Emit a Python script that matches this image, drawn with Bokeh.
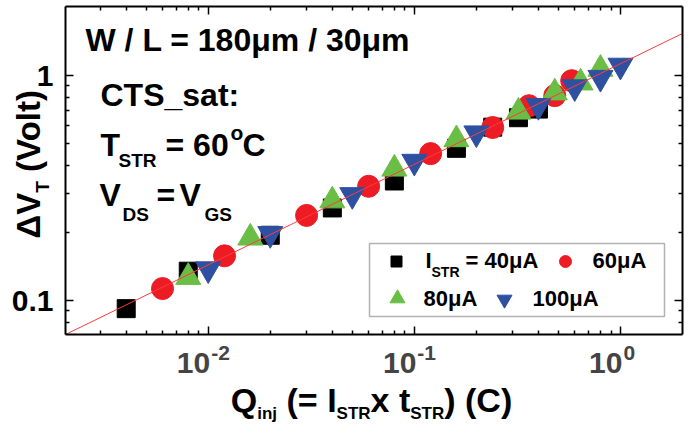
import math
from bokeh.plotting import figure
from bokeh.models import (Label, LogAxis, CustomJSTickFormatter, BoxAnnotation,
                          Range1d, FixedTicker)
from bokeh.embed import file_html
from bokeh.resources import INLINE

# ---------------- data ----------------
q_40 = [0.004, 0.008, 0.02, 0.04, 0.08, 0.16, 0.24, 0.32, 0.4]
dv_40 = [0.092, 0.135, 0.195, 0.258, 0.34, 0.475, 0.59, 0.65, 0.71]
q_60 = [0.006, 0.012, 0.03, 0.06, 0.12, 0.24, 0.36, 0.48, 0.58]
dv_60 = [0.113, 0.158, 0.239, 0.322, 0.45, 0.588, 0.735, 0.815, 0.95]
q_80 = [0.008, 0.016, 0.04, 0.08, 0.16, 0.32, 0.48, 0.64, 0.8]
dv_80 = [0.127, 0.19, 0.278, 0.385, 0.52, 0.69, 0.84, 0.93, 1.07]
q_100 = [0.01, 0.02, 0.05, 0.1, 0.2, 0.4, 0.6, 0.8, 1.0]
dv_100 = [0.138, 0.198, 0.295, 0.415, 0.555, 0.735, 0.89, 0.98, 1.11]
fit_q = [0.00203, 2.0]
fit_dv = [0.0706, 1.54]

x_major = [0.01, 0.1, 1.0]
x_tick_exp = ["-2", "-1", "0"]
x_minor = [0.003, 0.004, 0.005, 0.006, 0.007, 0.008, 0.009,
           0.02, 0.03, 0.04, 0.05, 0.06, 0.07, 0.08, 0.09,
           0.2, 0.3, 0.4, 0.5, 0.6, 0.7, 0.8, 0.9]
y_major = [0.1, 1.0]
y_minor = [0.08, 0.09, 0.2, 0.3, 0.4, 0.5, 0.6, 0.7, 0.8, 0.9]
legend_labels = ["= 40\u03bcA", "60\u03bcA", "80\u03bcA", "100\u03bcA"]

# axis limits of the drawn box
X0, X1 = 0.00203, 2.0
Y0, Y1 = 0.0706, 2.03

BLACK = "#000000"
RED = "#ed1c24"
GREEN = "#6abe45"
BLUE = "#2e50a0"
FONT = "Liberation Sans"

# canvas and box placement in canvas px
W, H = 693, 425
FL, FT, FR, FB = 65, 6, 682, 334
K = 0.43  # baseline correction (fraction of font size)

dpx_x = (FR - FL) / math.log10(X1 / X0)
dpx_y = (FB - FT) / math.log10(Y1 / Y0)
XS = X0 / 10 ** (FL / dpx_x)
XE = X1 * 10 ** ((W - FR) / dpx_x)
YS = Y0 / 10 ** ((H - FB) / dpx_y)
YE = Y1 * 10 ** (FT / dpx_y)

p = figure(width=W, height=H, x_axis_type="log", y_axis_type="log",
           x_range=Range1d(XS, XE), y_range=Range1d(YS, YE),
           output_backend="svg", toolbar_location=None,
           min_border_left=0, min_border_right=0,
           min_border_top=0, min_border_bottom=0)
p.title.visible = False
p.xgrid.visible = False
p.ygrid.visible = False
p.outline_line_color = None
p.background_fill_color = "white"
p.border_fill_color = "white"

empty = CustomJSTickFormatter(code="return ''")
xt = FixedTicker(ticks=x_major, minor_ticks=x_minor)
yt = FixedTicker(ticks=y_major, minor_ticks=y_minor)

bottom = p.below[0]
left = p.left[0]
top = LogAxis()
right = LogAxis()
p.add_layout(top, "above")
p.add_layout(right, "right")

for ax, loc, tk in ((bottom, Y0, xt), (top, Y1, xt), (left, X0, yt), (right, X1, yt)):
    ax.fixed_location = loc
    ax.ticker = tk
    ax.bounds = (X0, X1) if tk is xt else (Y0, Y1)
    ax.formatter = empty
    ax.axis_line_color = "black"
    ax.axis_line_width = 2
    ax.major_tick_in = 8
    ax.major_tick_out = 0
    ax.minor_tick_in = 4
    ax.minor_tick_out = 0
    ax.major_tick_line_width = 1.5
    ax.minor_tick_line_width = 1.5
    ax.major_tick_line_color = "black"
    ax.minor_tick_line_color = "black"
    ax.major_label_standoff = 0
    ax.major_label_text_font = FONT
    ax.major_label_text_font_style = "bold"
    ax.major_label_text_color = "black"

left.formatter = CustomJSTickFormatter(code="return String(Number(tick.toPrecision(3)))")
left.major_label_text_font_size = "30px"
left.major_label_standoff = 12

# ---------------- data marks ----------------
p.scatter(q_40, dv_40, marker="square", size=18, color=BLACK)
p.scatter(q_60, dv_60, marker="circle", size=22, color=RED)
p.scatter(q_80, dv_80, marker="triangle", size=25, color=GREEN)
p.scatter(q_100, dv_100, marker="inverted_triangle", size=25, color=BLUE)
p.line(fit_q, fit_dv, color="#ff3b3b", line_width=1)

# ---------------- text helpers (positions in canvas px, baseline) ----------------
AW = {' ': 278, '(': 333, ')': 333, '/': 278, '=': 584, '_': 556, ':': 333,
      '-': 333, '.': 278, '\u00b0': 400, '\u03bc': 611, '\u0394': 722,
      'A': 722, 'C': 722, 'D': 722, 'G': 778, 'I': 278, 'L': 611, 'Q': 778,
      'R': 722, 'S': 667, 'T': 611, 'V': 667, 'W': 944,
      'a': 556, 'i': 278, 'j': 278, 'l': 278, 'm': 889, 'n': 611, 'o': 611,
      's': 556, 't': 333, 'x': 556}


def tw(s, size):
    return sum(AW.get(c, 556) for c in s) * size / 1000.0


def put(text, px, py, size, angle=0.0, align="left"):
    if angle == 0.0:
        sx, sy = px, H - py + K * size
    else:
        sx, sy = px - K * size, H - py
    p.add_layout(Label(x=sx, y=sy, x_units="screen", y_units="screen",
                       text=text, text_font=FONT, text_font_style="bold",
                       text_font_size=f"{size}px", text_align=align,
                       text_baseline="alphabetic", angle=angle, text_color="black"))


def run(segs, px, py):
    pos = px
    for text, size, db in segs:
        lead = len(text) - len(text.lstrip(' '))
        pos += tw(' ' * lead, size)
        put(text.strip(' '), pos, py + db, size)
        pos += tw(text.lstrip(' '), size)


def vrun(segs, px, py):
    pos = py
    for text, size, db in segs:
        lead = len(text) - len(text.lstrip(' '))
        pos -= tw(' ' * lead, size)
        put(text.strip(' '), px + db, pos, size, angle=math.pi / 2)
        pos -= tw(text.lstrip(' '), size)


# annotations inside the box
put("W / L = 180\u03bcm / 30\u03bcm", 85, 53, 32)
put("CTS_sat:", 100, 108, 32)
put("T", 100, 158, 32)
put("STR", 118, 168, 19)
put("= 60", 165, 158, 32)
put("o", 230, 141, 21)
put("C", 242, 158, 32)
put("V", 99, 208, 32)
put("DS", 122, 222, 19)
put("=", 156, 208, 32)
put("V", 179, 208, 32)
put("GS", 204, 222, 19)

# axis titles
vrun([("\u0394V", 33, 0), ("T", 19, 8), (" (Volt)", 33, 0)], 42, 238)
xsegs = [("Q", 34, 0), ("inj", 17, 6), (" (= I", 34, 0), ("STR", 17, 6),
         ("x t", 34, 0), ("STR", 17, 6), (") (C)", 34, 0)]
total = sum(tw(s, z) for s, z, _ in xsegs)
run(xsegs, 371 - total / 2, 414)

# x tick labels 10^n
for t, e in zip(x_major, x_tick_exp):
    p.add_layout(Label(x=t, y=H - 375 + K * 30, x_units="data", y_units="screen", text="10",
                       x_offset=2, text_align="right", text_baseline="alphabetic",
                       text_font=FONT, text_font_style="bold", text_font_size="30px"))
    p.add_layout(Label(x=t, y=H - 362 + K * 21, x_units="data", y_units="screen", text=e,
                       x_offset=3, text_align="left", text_baseline="alphabetic",
                       text_font=FONT, text_font_style="bold", text_font_size="21px"))

# ---------------- legend ----------------
p.add_layout(BoxAnnotation(left=369, right=664, top=H - 243, bottom=H - 316,
                           left_units="screen", right_units="screen",
                           top_units="screen", bottom_units="screen",
                           fill_color=None, fill_alpha=0, line_color="black",
                           line_width=1.5))


def dx(px):
    a, b = math.log10(XS), math.log10(XE)
    return 10 ** (a + px / W * (b - a))


def dy(py):
    a, b = math.log10(YS), math.log10(YE)
    return 10 ** (a + (H - py) / H * (b - a))


p.scatter([dx(396)], [dy(261)], marker="square", size=11, color=BLACK)
p.scatter([dx(565)], [dy(261)], marker="circle", size=12, color=RED)
p.scatter([dx(397)], [dy(298)], marker="triangle", size=15, color=GREEN)
p.scatter([dx(504)], [dy(299)], marker="inverted_triangle", size=15, color=BLUE)

put("I", 425, 269, 22)
put("STR", 431, 278, 14)
put(legend_labels[0], 465, 269, 22)
put(legend_labels[1], 592, 269, 22)
put(legend_labels[2], 423, 307, 22)
put(legend_labels[3], 532, 307, 22)

open("out.html", "w").write(file_html(p, INLINE))
